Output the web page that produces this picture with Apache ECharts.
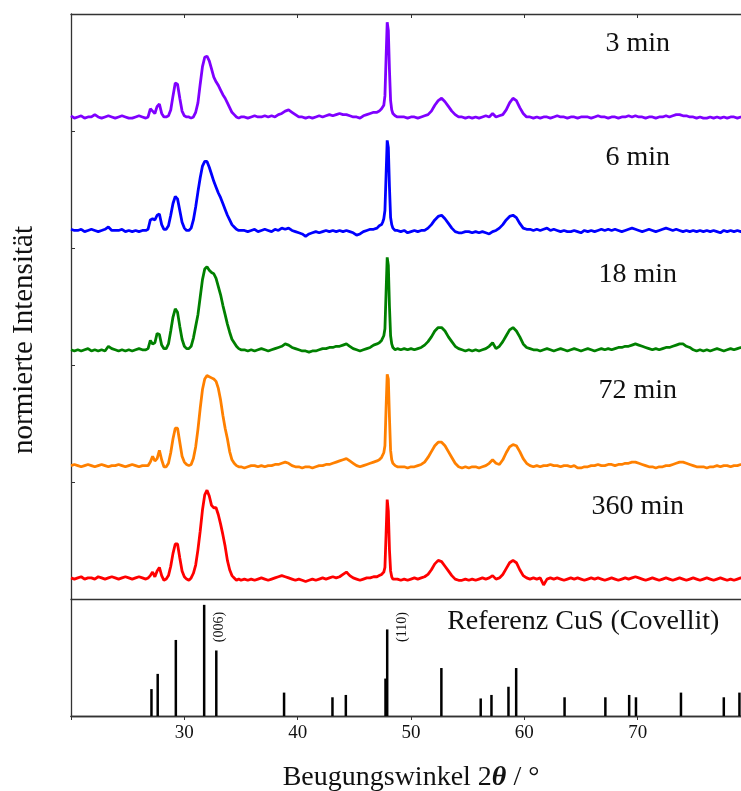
<!DOCTYPE html>
<html>
<head>
<meta charset="utf-8">
<script src="https://cdn.jsdelivr.net/npm/echarts@6/dist/echarts.min.js"></script>
<style>
  html, body { margin: 0; padding: 0; background: #fff; }
  #chart { width: 741px; height: 791px; }
</style>
</head>
<body>
<div id="chart"></div>
<script>
// 2theta grid (deg), finer around the peaks
const twoTheta = [
  20.0,20.3,20.6,20.9,21.2,21.5,21.8,22.1,22.4,22.7,23.0,23.3,23.6,23.9,24.2,24.5,24.8,25.1,25.4,25.7,26.0,26.3,26.6,
  26.8,27.0,27.2,27.4,27.6,27.8,28.0,28.2,28.4,28.6,28.8,29.0,29.2,29.4,29.6,29.8,30.0,30.2,30.4,30.6,
  30.8,31.0,31.2,31.4,31.6,31.8,32.0,32.2,32.4,32.6,32.8,33.0,33.2,33.4,33.6,33.8,34.0,34.2,34.4,34.6,34.8,35.0,
  35.3,35.6,35.9,36.2,36.5,36.8,37.1,37.4,37.7,38.0,38.3,38.6,38.9,39.2,39.5,39.8,40.1,40.4,40.7,41.0,
  41.3,41.6,41.9,42.2,42.5,42.8,43.1,43.4,43.7,44.0,44.3,44.6,44.9,45.2,45.5,45.8,46.1,46.4,46.7,
  47.0,47.1,47.2,47.3,47.4,47.5,47.6,47.7,47.8,47.9,48.0,48.1,48.2,48.3,48.4,48.5,48.6,48.7,48.8,
  49.1,49.4,49.7,50.0,50.3,50.6,50.9,51.2,51.5,51.8,52.1,52.4,52.7,53.0,53.3,53.6,53.9,54.2,54.5,54.8,
  55.1,55.4,55.7,56.0,56.3,56.6,56.9,57.2,57.5,57.8,58.1,58.4,58.7,59.0,59.3,59.6,59.9,60.2,60.5,60.8,
  61.1,61.4,61.7,62.0,62.3,62.6,62.9,63.2,63.5,63.8,64.1,64.4,64.7,65.0,65.3,65.6,65.9,66.2,66.5,66.8,
  67.1,67.4,67.7,68.0,68.3,68.6,68.9,69.2,69.5,69.8,70.1,70.4,70.7,71.0,71.3,71.6,71.9,72.2,72.5,72.8,
  73.1,73.4,73.7,74.0,74.3,74.6,74.9,75.2,75.5,75.8,76.1,76.4,76.7,77.0,77.3,77.6,77.9,78.2,78.5,78.8,
  79.1,79.4,79.7,80.0
]

// normierte Intensitaet in % (ohne Versatz)
const int3min = [
  13,11,12,13,11,12,12,14,12,11,12,13,12,11,12,13,12,11,11,12,13,12,11,
  12,19,17,15,21,23,15,12,12,13,18,30,41,40,28,17,13,12,12,11,
  12,16,24,40,55,63,64,60,53,46,42,39,35,31,28,24,20,16,14,12,11,12,
  12,11,12,13,12,12,13,12,13,12,14,15,17,18,16,14,12,12,11,12,
  11,12,13,12,13,14,13,14,15,14,14,13,12,12,11,13,14,15,16,
  16,17,17,18,19,20,22,30,62,93,86,52,26,18,15,14,13,12,12,
  12,12,11,12,12,11,12,13,14,17,22,26,28,25,21,17,14,12,12,11,
  12,11,12,11,12,13,12,15,12,13,14,18,24,28,26,20,15,12,12,11,
  12,11,12,12,11,12,13,12,12,11,12,12,11,12,12,12,11,12,13,12,
  12,11,12,12,11,12,12,13,12,13,12,12,11,12,12,11,12,12,13,12,
  13,14,14,13,13,12,12,11,12,11,11,12,11,12,11,12,11,12,12,11,
  12,11,12,12
]
const int6min = [
  16,15,15,16,14,15,16,15,14,15,16,18,15,15,15,16,14,15,14,15,14,15,15,
  16,24,25,24,28,29,20,16,16,19,28,38,44,42,32,22,17,15,15,17,
  24,35,48,60,70,74,74,69,63,57,52,47,43,38,33,28,24,20,18,16,15,15,
  15,14,15,16,14,15,16,15,14,16,15,17,16,17,15,14,13,12,10,12,
  13,14,13,14,15,14,15,14,15,14,15,14,13,11,12,14,15,16,16,
  17,18,19,20,20,22,25,32,62,92,86,52,26,20,17,16,15,14,15,
  14,15,13,14,15,14,15,15,17,20,24,27,28,25,21,17,14,13,13,14,
  14,13,14,13,14,13,12,14,15,17,20,24,27,28,26,21,17,16,16,15,
  16,15,16,17,15,16,15,14,15,14,14,15,14,13,15,14,15,14,15,16,
  15,16,15,16,15,14,15,16,17,16,15,14,15,16,15,14,15,16,17,16,
  15,16,15,14,15,14,15,14,15,14,15,14,15,14,13,15,14,15,14,15,
  14,15,14,15
]
const int18min = [
  13,12,13,12,13,14,12,13,12,13,12,16,14,13,12,13,12,13,12,13,14,13,13,
  14,21,18,19,27,26,17,14,14,18,29,41,48,45,33,22,16,14,14,16,
  23,33,43,58,73,82,84,81,79,78,74,67,60,51,43,35,28,22,19,16,14,13,
  13,12,13,12,13,14,13,12,13,14,15,16,18,17,15,14,13,12,12,11,
  12,12,13,14,14,15,15,16,16,17,18,16,14,13,12,13,14,15,17,
  18,18,19,20,21,22,25,31,62,92,85,50,25,18,15,14,13,13,14,
  13,14,13,14,13,14,15,17,20,24,29,32,32,29,24,20,16,14,13,12,
  13,12,13,12,13,14,16,19,14,16,20,25,30,32,29,24,18,15,14,13,
  13,12,13,14,13,12,13,14,13,12,13,14,13,12,13,14,13,12,13,14,
  13,14,13,14,15,15,16,16,17,18,17,16,15,14,13,14,13,14,15,15,
  16,17,18,18,16,15,13,12,13,12,13,12,13,14,13,12,13,14,13,14,
  15,13,14,14
]
const int72min = [
  14,15,14,13,14,15,14,13,14,15,14,13,14,14,15,14,13,14,15,14,13,14,14,
  14,17,22,18,20,27,19,13,13,16,25,37,46,46,34,22,17,15,14,15,
  20,30,45,63,79,88,91,90,89,88,86,80,70,57,46,37,26,19,16,14,13,13,
  12,13,14,14,13,14,13,14,14,15,15,16,17,16,14,13,13,12,13,13,
  12,13,14,14,15,15,16,17,18,19,20,18,16,14,13,14,15,16,17,
  18,18,19,20,21,22,25,31,63,92,88,55,27,19,16,15,14,13,13,
  13,13,12,13,13,14,15,17,21,26,31,34,34,31,26,21,16,13,12,13,
  12,13,13,12,13,14,16,19,16,15,19,25,30,32,31,26,20,16,14,13,
  14,13,14,14,15,14,14,13,14,14,13,14,12,12,13,13,14,14,15,14,
  14,15,15,14,15,15,16,16,17,17,16,15,14,13,13,12,13,13,14,14,
  15,16,17,17,16,15,14,13,13,13,12,13,13,14,13,14,14,13,14,14,
  15,14,15,15
]
const int360min = [
  18,17,18,19,17,18,18,17,19,18,17,18,19,18,17,18,19,18,17,18,19,18,17,
  18,20,23,19,24,27,20,16,17,20,28,39,47,47,35,24,19,17,16,18,
  22,29,42,58,76,89,93,88,80,78,78,72,64,55,45,33,25,20,18,16,17,16,
  17,16,17,16,17,18,17,16,17,18,19,20,19,18,17,16,17,16,15,16,
  17,16,17,18,17,18,19,18,19,21,23,20,18,17,16,17,18,18,19,
  19,19,20,20,21,22,23,27,55,85,75,42,24,19,17,16,17,16,17,
  16,17,16,17,18,17,18,19,21,25,30,33,32,28,24,20,17,16,16,17,
  16,17,16,17,18,17,18,20,17,18,21,26,31,33,31,25,20,18,17,18,
  17,18,12,17,18,17,18,17,16,17,18,17,18,17,16,17,18,17,18,17,
  16,17,18,17,16,17,18,17,18,19,18,17,16,17,18,17,16,17,18,17,
  16,17,18,17,16,17,18,17,16,17,18,17,16,17,18,17,16,17,16,17,
  18,17,16,17
]

const traceNames = ['3 min', '6 min', '18 min', '72 min', '360 min']
const traceData = [int3min, int6min, int18min, int72min, int360min]
const traceOffsets = [4, 3, 2, 1, 0]
const traceColors = ['#7f00ff', '#0000ff', '#008000', '#ff8000', '#ff0000']
const labelY = [4.75, 3.77, 2.77, 1.78, 0.79]

// Referenz CuS (Covellit), Strichdiagramm
const refPos = [27.1, 27.65, 29.25, 31.75, 32.82, 38.8, 43.07, 44.25, 47.75, 47.9, 52.68,
  56.15, 57.1, 58.6, 59.28, 63.55, 67.15, 69.25, 69.85, 73.82, 77.6, 78.98]
const refInt = [0.23, 0.36, 0.65, 0.95, 0.56, 0.20, 0.16, 0.18, 0.32, 0.74, 0.41,
  0.15, 0.18, 0.25, 0.41, 0.16, 0.16, 0.18, 0.16, 0.20, 0.16, 0.20]
const hklLabels = [{ name: '(006)', value: [33.05, 0.76] }, { name: '(110)', value: [49.2, 0.76] }]

traceData.forEach((d, i) => {
  if (d.length !== twoTheta.length) console.error('length mismatch', traceNames[i], d.length)
})

const font = '"Liberation Serif", "Times New Roman", serif'
const spine = { show: true, lineStyle: { color: '#333', width: 1.3 } }

const myChart = echarts.init(document.getElementById('chart'))

const series = traceData.map((d, i) => ({
  type: 'line',
  name: traceNames[i],
  xAxisIndex: 0,
  yAxisIndex: 0,
  showSymbol: false,
  symbol: 'none',
  lineStyle: { color: traceColors[i], width: 2.8 },
  data: d.map((v, k) => [twoTheta[k], traceOffsets[i] + v / 100]),
}))

series.push({
  type: 'scatter',
  xAxisIndex: 0,
  yAxisIndex: 0,
  symbolSize: 0,
  itemStyle: { opacity: 1 },
  data: traceNames.map((n, i) => ({ name: n, value: [70, labelY[i]] })),
  label: {
    show: true,
    position: 'inside',
    formatter: (p) => p.name,
    fontFamily: font,
    fontSize: 28,
    color: '#111',
  },
})

series.push({
  type: 'bar',
  xAxisIndex: 3,
  yAxisIndex: 1,
  barWidth: 2.5,
  itemStyle: { color: '#000' },
  data: refPos.map((x, i) => [x, refInt[i]]),
})

// Referenz-Titel und gedrehte Miller-Indizes
const refLabels = hklLabels
  .map((d) => Object.assign({}, d, { label: { rotate: 90, fontSize: 14 } }))
  .concat([{ name: 'Referenz CuS (Covellit)', value: [65.2, 0.81] }])

series.push({
  type: 'scatter',
  xAxisIndex: 3,
  yAxisIndex: 1,
  symbolSize: 0,
  itemStyle: { opacity: 1 },
  data: refLabels,
  label: {
    show: true,
    position: 'inside',
    formatter: (p) => p.name,
    fontFamily: font,
    color: '#111',
    fontSize: 28,
  },
})

const option = {
  animation: false,
  backgroundColor: '#fff',
  grid: [
    { left: 71, top: 14, width: 680, height: 585, outerBoundsMode: 'none', containLabel: false },
    { left: 71, top: 599, width: 680, height: 117, outerBoundsMode: 'none', containLabel: false },
  ],
  xAxis: [
    { type: 'value', gridIndex: 0, min: 20, max: 80, interval: 10, position: 'bottom',
      axisLine: spine, axisTick: { show: false }, axisLabel: { show: false }, splitLine: { show: false } },
    { type: 'value', gridIndex: 0, min: 20, max: 80, interval: 10, position: 'top',
      axisLine: spine, axisTick: { show: true, inside: true, length: 4, lineStyle: { color: '#333' } },
      axisLabel: { show: false }, splitLine: { show: false } },
    { type: 'value', gridIndex: 1, min: 20, max: 80, interval: 10, position: 'top',
      axisLine: spine, axisTick: { show: true, inside: true, length: 4, lineStyle: { color: '#333' } },
      axisLabel: { show: false }, splitLine: { show: false } },
    { type: 'value', gridIndex: 1, min: 20, max: 80, interval: 10, position: 'bottom',
      axisLine: spine, axisTick: { show: false }, splitLine: { show: false },
      axisLabel: {
        margin: 8, fontFamily: font, fontSize: 19, color: '#111',
        formatter: (v) => (v === 20 || v === 80 ? '' : v),
      },
      name: '{n|Beugungswinkel 2}{t|θ}{n| / °}',
      nameLocation: 'middle',
      nameGap: 48,
      nameTextStyle: {
        rich: {
          n: { fontFamily: font, fontSize: 28, color: '#111' },
          t: { fontFamily: font, fontSize: 28, color: '#111', fontStyle: 'italic', fontWeight: 'bold' },
        },
      },
    },
  ],
  yAxis: [
    { type: 'value', gridIndex: 0, min: 0, max: 5, interval: 1,
      axisLine: spine, axisTick: { show: true, inside: true, length: 4, lineStyle: { color: '#333' } },
      axisLabel: { show: false }, splitLine: { show: false } },
    { type: 'value', gridIndex: 1, min: 0, max: 1, interval: 1,
      axisLine: spine, axisTick: { show: false }, axisLabel: { show: false }, splitLine: { show: false } },
  ],
  graphic: [
    {
      type: 'text',
      x: 24,
      y: 340,
      rotation: Math.PI / 2,
      style: {
        text: 'normierte Intensität',
        font: '29px "Liberation Serif"',
        fill: '#111',
        align: 'center',
        verticalAlign: 'middle',
        textAlign: 'center',
        textVerticalAlign: 'middle',
      },
    },
  ],
  series,
}

myChart.setOption(option)
</script>
</body>
</html>
